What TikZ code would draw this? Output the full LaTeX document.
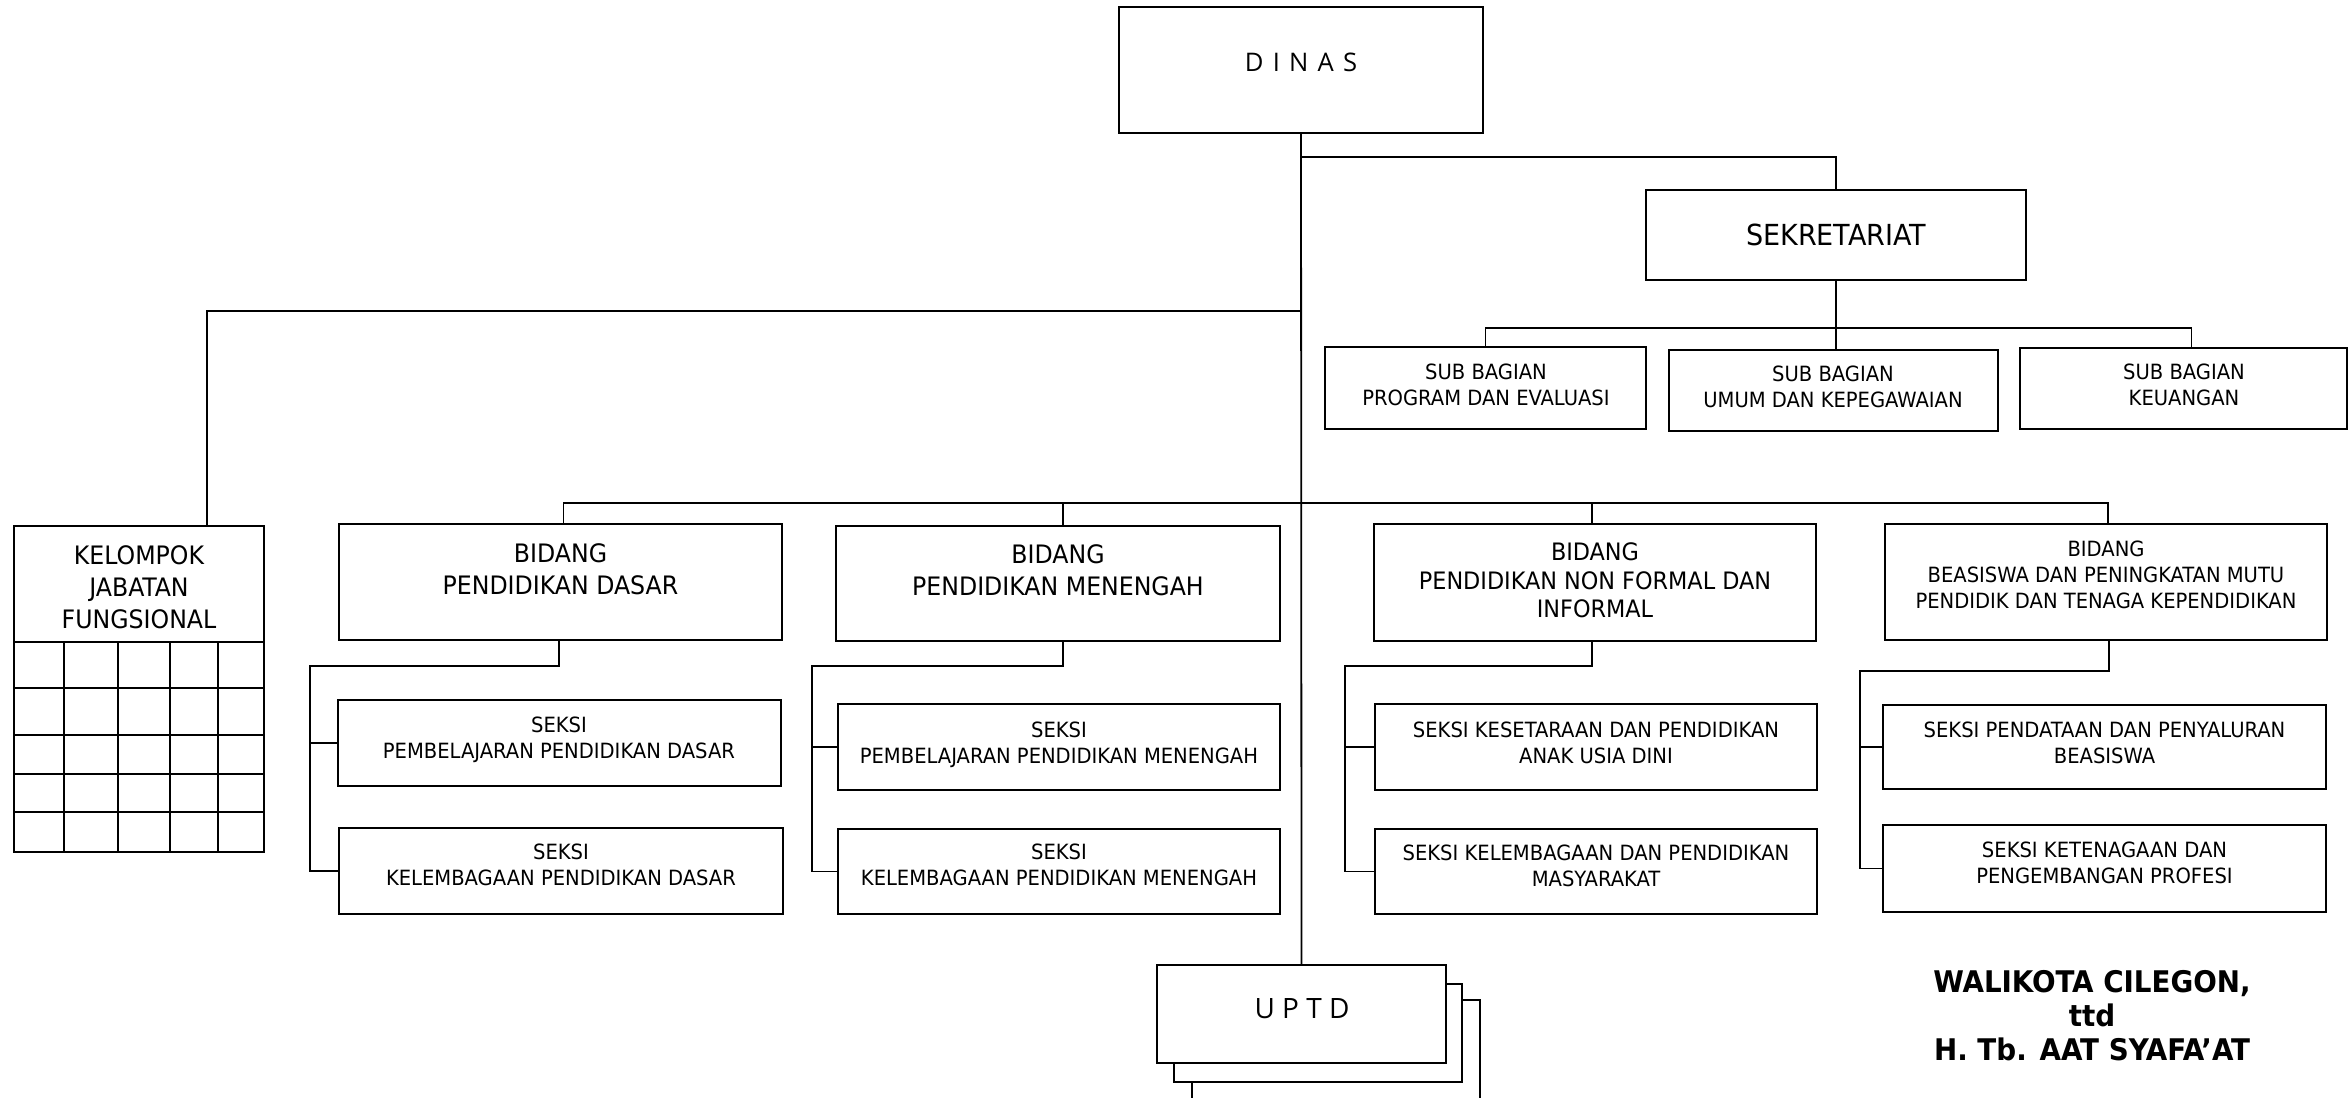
\documentclass[tikz,border=0pt]{standalone}
\usepackage{fontspec}
\setmainfont[FakeStretch=1.035]{DejaVu Sans Condensed}
\newfontfamily\spcfont{Open Sans}
\newcommand{\fsmall}{\fontsize{10.5pt}{13pt}\selectfont}
\newcommand{\fbig}{\fontsize{12.7pt}{16pt}\selectfont}
\newcommand{\fnf}{\fontsize{12pt}{14.2pt}\selectfont}
\newcommand{\fsek}{\fontsize{14.5pt}{17pt}\selectfont}
\newcommand{\fsig}{\fontsize{14.9pt}{17pt}\selectfont\bfseries}
\newcommand{\fdinas}{\spcfont\fontsize{12.8pt}{15pt}\selectfont}
\newcommand{\fuptd}{\spcfont\fontsize{14pt}{16pt}\selectfont}
\newcommand{\stk}[1]{\begin{tabular}[t]{@{}c@{}}#1\end{tabular}}
\newcommand{\gp}{\hspace{4.6pt}}
\tikzset{
  box/.style={draw, line width=0.9pt, fill=white, inner sep=0pt, outer sep=0pt},
  conn/.style={line width=0.9pt},
  lbl/.style={inner sep=0pt, outer sep=0pt, anchor=base},
}
\newcommand{\bx}[5]{\node[box, minimum width={(#4-#2)*0.5pt}, minimum height={(#5-#3)*0.5pt}] (#1) at ({(#2+#4)/2},{(#3+#5)/2}) {};}
\begin{document}
\begin{tikzpicture}[x=0.5pt,y=-0.5pt]
\fill[white] (0,0) rectangle (2349,1097);
\useasboundingbox (0,0) rectangle (2349,1097);
% boxes
\bx{dinas}{1119}{7}{1483}{133}
\bx{sek}{1646}{190}{2026}{280}
\bx{sb1}{1325}{347}{1646}{429}
\bx{sb2}{1669}{350}{1998}{431}
\bx{sb3}{2020}{348}{2347}{429}
\bx{kel}{14}{526}{264}{852}
\bx{bpd}{339}{524}{782}{640}
\bx{bpm}{836}{526}{1280}{641}
\bx{bnf}{1374}{524}{1816}{641}
\bx{bbm}{1885}{524}{2327}{640}
\bx{spd1}{338}{700}{781}{786}
\bx{spd2}{339}{828}{783}{914}
\bx{spm1}{838}{704}{1280}{790}
\bx{spm2}{838}{829}{1280}{914}
\bx{snf1}{1375}{704}{1817}{790}
\bx{snf2}{1375}{829}{1817}{914}
\bx{sbb1}{1883}{705}{2326}{789}
\bx{sbb2}{1883}{825}{2326}{912}
\bx{uptd3}{1192}{1000}{1480}{1120}
\bx{uptd2}{1174}{984}{1462}{1082}
\bx{uptd1}{1157}{965}{1446}{1063}
% grid of kelompok
\foreach \yy in {642,688,735,774,812} \draw[conn] (14,\yy) -- (264,\yy);
\foreach \xx in {64,118,170,218} \draw[conn] (\xx,642) -- (\xx,852);
% coordinates
\coordinate (j1) at (1301,157);
\coordinate (j2) at (1301,311);
\coordinate (sbbus) at (1836,328);
\coordinate (bbus) at (1301,503);
\coordinate (vpd) at (310,666);
\coordinate (vpm) at (812,666);
\coordinate (vnf) at (1345,666);
\coordinate (vbb) at (1860,671);
% connectors
\draw[conn] (dinas.south) -- (uptd1.north);
\draw[conn] (j1) -| (sek.north);
\draw[conn] (sek.south) -- (sek.south |- sb2.north);
\draw[conn] (sb1.north) |- (sbbus) -| ([xshift=4pt]sb3.north);
\draw[conn] (j2) -| ([xshift=34pt]kel.north);
\draw[conn] ([xshift=1.5pt]bpd.north) |- (bbus) -| ([xshift=1pt]bbm.north);
\draw[conn] ([xshift=2.5pt]bpm.north) -- ([xshift=2.5pt]bpm.north |- bbus);
\draw[conn] ([xshift=-1.5pt]bnf.north) -- ([xshift=-1.5pt]bnf.north |- bbus);
\draw[conn] ([xshift=-0.8pt]bpd.south) |- (vpd) |- (spd2.west);
\draw[conn] (vpd |- spd1.west) -- (spd1.west);
\draw[conn] ([xshift=2.5pt]bpm.south) |- (vpm) |- (spm2.west);
\draw[conn] (vpm |- spm1.west) -- (spm1.west);
\draw[conn] ([xshift=-1.5pt]bnf.south) |- (vnf) |- (snf2.west);
\draw[conn] (vnf |- snf1.west) -- (snf1.west);
\draw[conn] ([xshift=1.3pt]bbm.south) |- (vbb) |- (sbb2.west);
\draw[conn] (vbb |- sbb1.west) -- (sbb1.west);
% texts
\node[lbl,font=\fdinas] (tdinas) at (1301,72) {D\gp I\gp N\gp A\gp S};
\node[lbl,font=\fsek] (tsek) at (1836,245.6) {SEKRETARIAT};
\node[lbl,font=\fsmall] (tsb1) at (1486,379.7) {\stk{SUB BAGIAN\\PROGRAM DAN EVALUASI}};
\node[lbl,font=\fsmall] (tsb2) at (1833,381.7) {\stk{SUB BAGIAN\\UMUM DAN KEPEGAWAIAN}};
\node[lbl,font=\fsmall] (tsb3) at (2184,379.7) {\stk{SUB BAGIAN\\KEUANGAN}};
\node[lbl,font=\fbig] (tkel) at (139,564.3) {\stk{KELOMPOK\\JABATAN\\FUNGSIONAL}};
\node[lbl,font=\fbig] (tbpd) at (560.5,562.3) {\stk{BIDANG\\PENDIDIKAN DASAR}};
\node[lbl,font=\fbig] (tbpm) at (1058,563.3) {\stk{BIDANG\\PENDIDIKAN MENENGAH}};
\node[lbl,font=\fnf] (tbnf) at (1595,560.8) {\stk{BIDANG\\PENDIDIKAN NON FORMAL DAN\\INFORMAL}};
\node[lbl,font=\fsmall] (tbbm) at (2106,556.7) {\stk{BIDANG\\BEASISWA DAN PENINGKATAN MUTU\\PENDIDIK DAN TENAGA KEPENDIDIKAN}};
\node[lbl,font=\fsmall] (tspd1) at (559,732.7) {\stk{SEKSI\\PEMBELAJARAN PENDIDIKAN DASAR}};
\node[lbl,font=\fsmall] (tspd2) at (561,859.7) {\stk{SEKSI\\KELEMBAGAAN PENDIDIKAN DASAR}};
\node[lbl,font=\fsmall] (tspm1) at (1059,737.7) {\stk{SEKSI\\PEMBELAJARAN PENDIDIKAN MENENGAH}};
\node[lbl,font=\fsmall] (tspm2) at (1059,859.7) {\stk{SEKSI\\KELEMBAGAAN PENDIDIKAN MENENGAH}};
\node[lbl,font=\fsmall] (tsnf1) at (1596,737.7) {\stk{SEKSI KESETARAAN DAN PENDIDIKAN\\ANAK USIA DINI}};
\node[lbl,font=\fsmall] (tsnf2) at (1596,860.7) {\stk{SEKSI KELEMBAGAAN DAN PENDIDIKAN\\MASYARAKAT}};
\node[lbl,font=\fsmall] (tsbb1) at (2104.5,737.7) {\stk{SEKSI PENDATAAN DAN PENYALURAN\\BEASISWA}};
\node[lbl,font=\fsmall] (tsbb2) at (2104.5,857.7) {\stk{SEKSI KETENAGAAN DAN\\PENGEMBANGAN PROFESI}};
\node[lbl,font=\fuptd] (tuptd) at (1302,1018) {U P T D};
\node[lbl,font=\fsig] (tsig) at (2092,992.9) {\stk{WALIKOTA CILEGON,\\ttd\\H. Tb. AAT SYAFA’AT}};
\end{tikzpicture}
\end{document}
